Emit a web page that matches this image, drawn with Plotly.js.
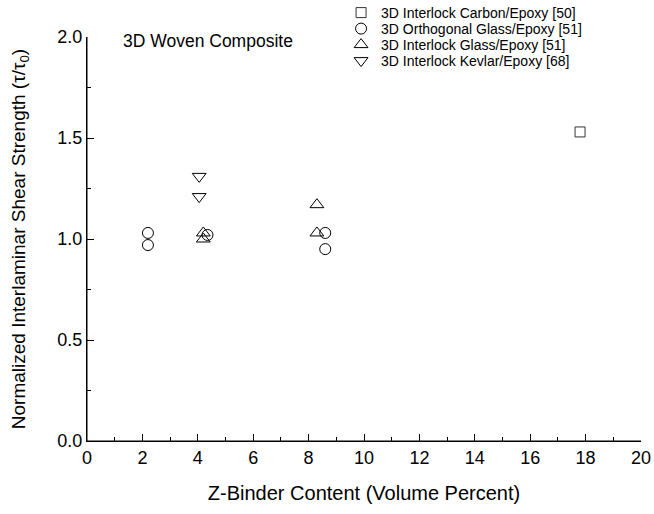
<!DOCTYPE html>
<html>
<head>
<meta charset="utf-8">
<script src="https://cdn.plot.ly/plotly-3.0.1.min.js"></script>
<style>body{margin:0;background:#fff;}#chart{width:654px;height:514px;}</style>
</head>
<body>
<div id="chart"></div>
<script>
// Series names
const seriesNames = [
  "3D Interlock Carbon/Epoxy [50]",
  "3D Orthogonal Glass/Epoxy [51]",
  "3D Interlock Glass/Epoxy [51]",
  "3D Interlock Kevlar/Epoxy [68]"
];
// Data (x: Z-binder volume percent, y: normalized ILSS)
const carbonX = [17.8];
const carbonY = [1.53];
const orthoGlassX = [2.2, 2.2, 4.35, 8.6, 8.6];
const orthoGlassY = [1.03, 0.97, 1.02, 1.03, 0.95];
const interGlassX = [4.2, 4.2, 8.3, 8.3];
const interGlassY = [1.03, 1.0, 1.17, 1.03];
const kevlarX = [4.05, 4.05];
const kevlarY = [1.31, 1.21];

const font = "Arial, 'Liberation Sans', sans-serif";
const mk = (sym, size, col) => ({symbol: sym, size: size, color: col, line: {color: col, width: 1}});

const traces = [
  {x: carbonX, y: carbonY, name: seriesNames[0], legend: 'legend', mode: 'markers', type: 'scatter', marker: mk('square-open', 10, '#333')},
  {x: orthoGlassX, y: orthoGlassY, name: seriesNames[1], legend: 'legend2', mode: 'markers', type: 'scatter', marker: mk('circle-open', 11, '#000')},
  {x: interGlassX, y: interGlassY, name: seriesNames[2], legend: 'legend3', mode: 'markers', type: 'scatter', marker: mk('triangle-up-open', 12, '#000')},
  {x: kevlarX, y: kevlarY, name: seriesNames[3], legend: 'legend4', mode: 'markers', type: 'scatter', marker: mk('triangle-down-open', 12, '#000')}
];

const legendRowY = [1.0594, 1.0198, 0.9802, 0.9406];
const mkLegend = (y) => ({
  x: 0.4586, y: y, xanchor: 'left', yanchor: 'middle',
  font: {family: font, size: 14, color: '#000'},
  bgcolor: 'rgba(0,0,0,0)', borderwidth: 0, itemwidth: 30
});

const layout = {
  width: 654, height: 514,
  margin: {l: 87, r: 13, t: 37, b: 73, autoexpand: false},
  paper_bgcolor: '#fff', plot_bgcolor: '#fff',
  font: {family: font, color: '#000', size: 18},
  showlegend: true,
  legend: mkLegend(legendRowY[0]),
  legend2: mkLegend(legendRowY[1]),
  legend3: mkLegend(legendRowY[2]),
  legend4: mkLegend(legendRowY[3]),
  xaxis: {
    range: [0, 20], dtick: 2, tick0: 0,
    showgrid: false, zeroline: false,
    showline: true, linecolor: '#000', linewidth: 1, mirror: false,
    ticks: 'inside', ticklen: 7, tickwidth: 1, tickcolor: '#000',
    tickfont: {family: font, size: 18},
    minor: {dtick: 1, ticks: 'inside', ticklen: 4, tickcolor: '#000', showgrid: false},
    title: {text: 'Z-Binder Content (Volume Percent)', font: {family: font, size: 20}, standoff: 19}
  },
  yaxis: {
    range: [0, 2], dtick: 0.5, tick0: 0, tickformat: '.1f',
    showgrid: false, zeroline: false,
    showline: true, linecolor: '#000', linewidth: 1, mirror: false,
    ticks: 'inside', ticklen: 7, tickwidth: 1, tickcolor: '#000',
    tickfont: {family: font, size: 18},
    minor: {dtick: 0.25, ticks: 'inside', ticklen: 4, tickcolor: '#000', showgrid: false},
    title: {text: 'Normalized Interlaminar Shear Strength (τ/τ<sub>0</sub>)', font: {family: font, size: 19}, standoff: 26}
  },
  shapes: [
    {type: 'line', xref: 'paper', yref: 'paper', x0: 0, x1: 0, y0: 0, y1: 1, line: {color: '#000', width: 1}},
    {type: 'line', xref: 'paper', yref: 'paper', x0: 0, x1: 1, y0: 0, y1: 0, line: {color: '#000', width: 1}}
  ],
  annotations: [
    {text: '3D Woven Composite', xref: 'paper', yref: 'paper', x: 0.062, y: 0.99, xanchor: 'left', yanchor: 'middle',
     showarrow: false, font: {family: font, size: 17.5, color: '#000'}}
  ]
};

Plotly.newPlot('chart', traces, layout, {displayModeBar: false, staticPlot: true});
</script>
</body>
</html>
